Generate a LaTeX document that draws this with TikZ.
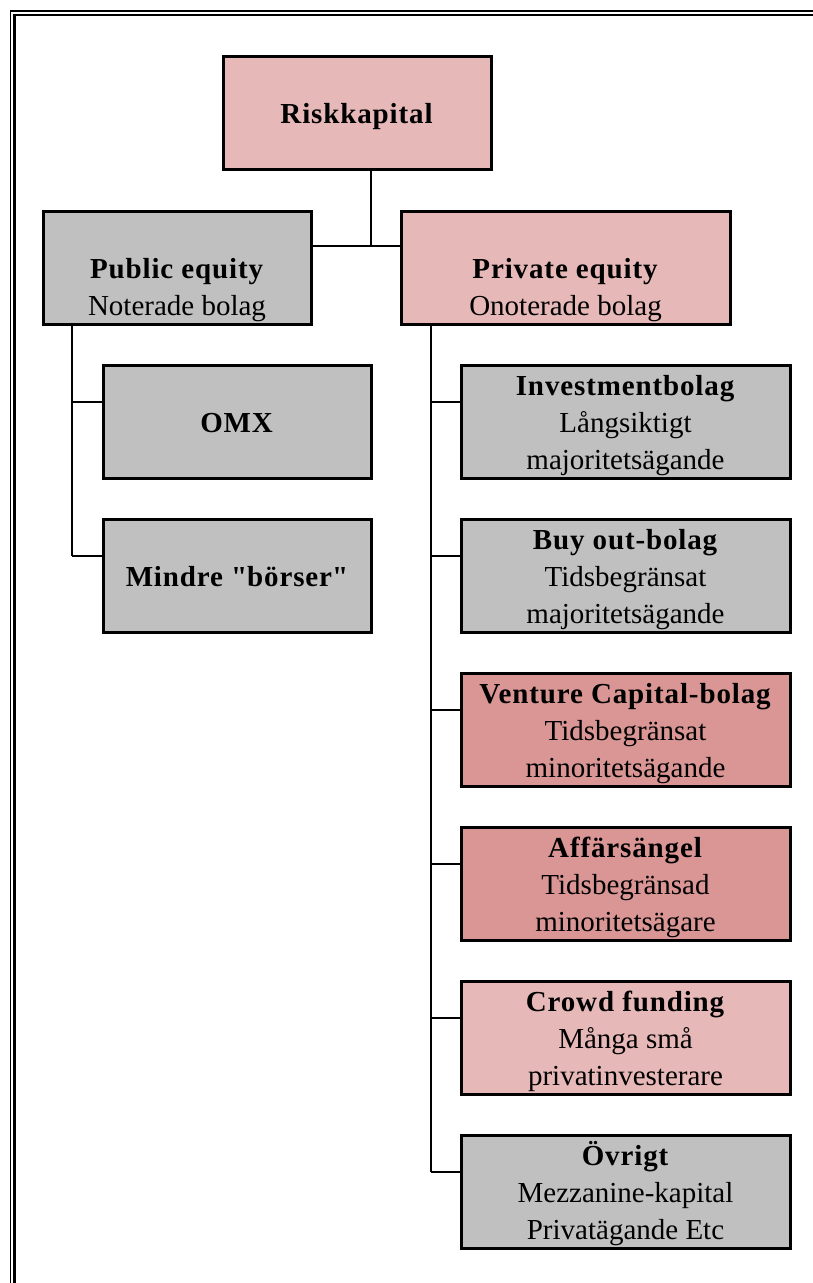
\documentclass[tikz,border=0pt]{standalone}
\usepackage{fontspec}
\setmainfont{Liberation Serif}[BoldFeatures={LetterSpace=3.0}]
\usetikzlibrary{calc}
\definecolor{pinkbox}{HTML}{E6B8B7}
\definecolor{rosebox}{HTML}{D99694}
\definecolor{graybox}{HTML}{C0C0C0}
\newcommand{\bstrut}{\rule[-7.5pt]{0pt}{37pt}}
\newcommand{\boxtext}[3]{\bstrut#1\\\bstrut#2\\\bstrut#3}
\begin{document}
\begin{tikzpicture}[x=1pt,y=-1pt,line join=miter,
	box/.style={draw,line width=3pt,anchor=north west,minimum height=113pt,inner sep=0pt,align=center,font=\fontsize{29}{37}\selectfont},
	narrow/.style={box,minimum width=268pt},
	wide/.style={box,minimum width=329pt},
	link/.style={line width=1.6pt}]
	\useasboundingbox (0,0) rectangle (813,1283);
	\clip (0,0) rectangle (813,1283);
	\fill[white] (0,0) rectangle (813,1283);
	\draw[line width=1.2pt] (10.5,1300)--(10.5,11)--(830,11);
	\draw[line width=2.6pt] (14.3,1300)--(14.3,15)--(830,15);
	\node[narrow,fill=pinkbox] (risk) at (221.5,54.5) {\boxtext{}{\textbf{Riskkapital}}{}};
	\node[narrow,fill=graybox] (pub) at (41.5,209.5) {\boxtext{}{\textbf{Public equity}}{Noterade bolag}};
	\node[wide,fill=pinkbox] (priv) at (399.5,209.5) {\boxtext{}{\textbf{Private equity}}{Onoterade bolag}};
	\node[narrow,fill=graybox] (omx) at (101.5,363.5) {\boxtext{}{\textbf{OMX}}{}};
	\node[narrow,fill=graybox] (mindre) at (101.5,517.5) {\boxtext{}{\textbf{Mindre \textquotedbl börser\textquotedbl}}{}};
	\node[wide,fill=graybox] (inv) at (459.5,363.5) {\boxtext{\textbf{Investmentbolag}}{Långsiktigt}{majoritetsägande}};
	\node[wide,fill=graybox] (buy) at (459.5,517.5) {\boxtext{\textbf{Buy out-bolag}}{Tidsbegränsat}{majoritetsägande}};
	\node[wide,fill=rosebox] (vc) at (459.5,671.5) {\boxtext{\textbf{Venture Capital-bolag}}{Tidsbegränsat}{minoritetsägande}};
	\node[wide,fill=rosebox] (aff) at (459.5,825.5) {\boxtext{\textbf{Affärsängel}}{Tidsbegränsad}{minoritetsägare}};
	\node[wide,fill=pinkbox] (crowd) at (459.5,979.5) {\boxtext{\textbf{Crowd funding}}{Många små}{privatinvesterare}};
	\node[wide,fill=graybox] (ovr) at (459.5,1133.5) {\boxtext{\textbf{Övrigt}}{Mezzanine-kapital}{Privatägande Etc}};
	\coordinate (top) at (371,246);
	\coordinate (lbus) at (72,0);
	\coordinate (rbus) at (431,0);
	\draw[link] (risk.south -| top)--(top);
	\draw[link] (pub.east |- top)--(priv.west |- top);
	\draw[link] (pub.south -| lbus)--($(mindre.north -| lbus)+(0,38.5)$);
	\foreach \b in {omx,mindre}
		\draw[link] ($(\b.north -| lbus)+(0,38.5)$)--($(\b.north west)+(0,38.5)$);
	\draw[link] (priv.south -| rbus)--($(ovr.north -| rbus)+(0,38.5)$);
	\foreach \b in {inv,buy,vc,aff,crowd,ovr}
		\draw[link] ($(\b.north -| rbus)+(0,38.5)$)--($(\b.north west)+(0,38.5)$);
\end{tikzpicture}
\end{document}
